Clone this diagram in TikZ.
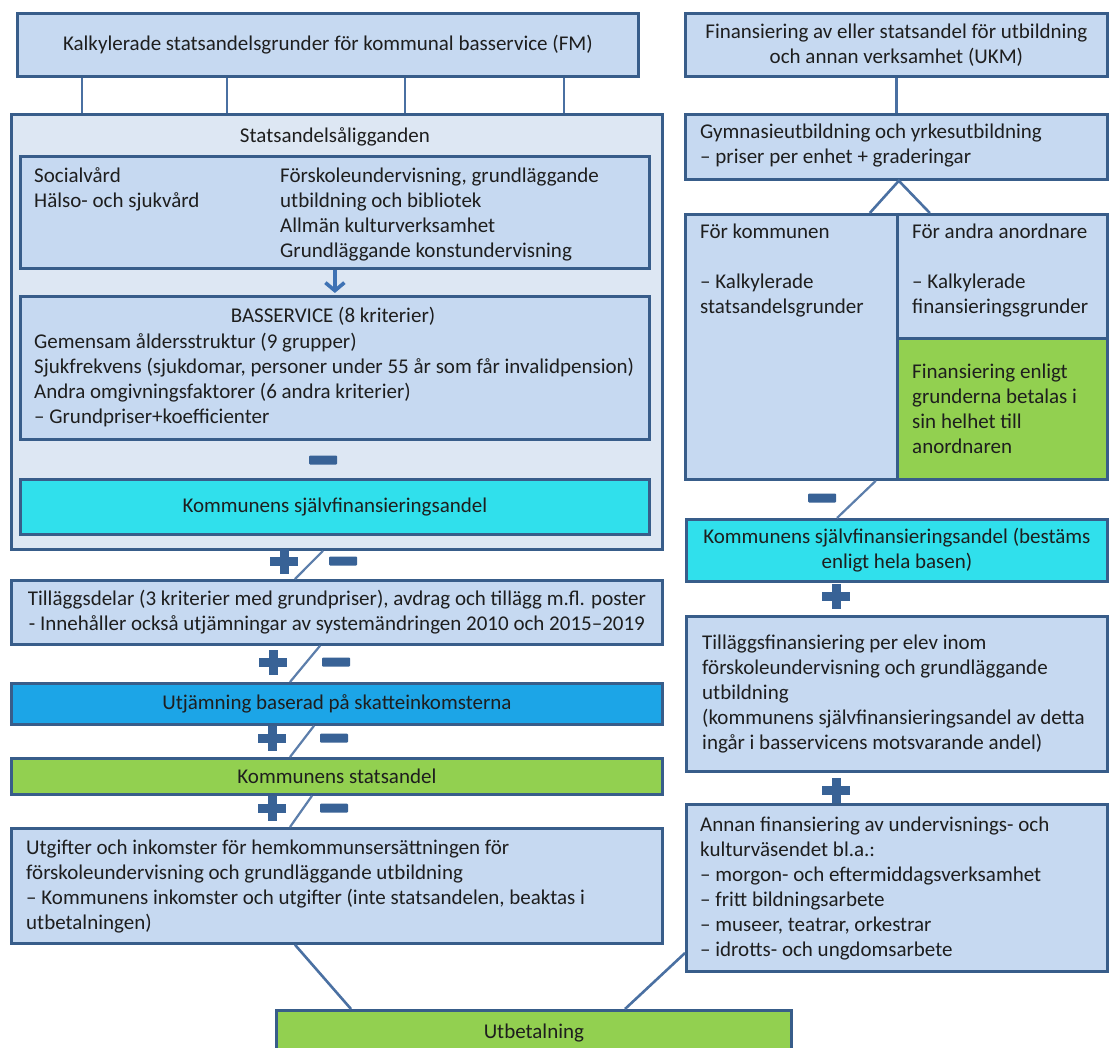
\documentclass[tikz,border=0pt]{standalone}
\usepackage{fontspec}
\setmainfont{Carlito}
\usetikzlibrary{arrows.meta}
\definecolor{boxline}{RGB}{56,93,138}
\definecolor{boxfill}{RGB}{198,217,241}
\definecolor{outerfill}{RGB}{221,231,243}
\definecolor{cyanfill}{RGB}{48,224,236}
\definecolor{bluefill}{RGB}{28,165,231}
\definecolor{greenfill}{RGB}{146,208,80}
\definecolor{linkblue}{RGB}{74,112,162}
\definecolor{arrowblue}{RGB}{62,114,180}
\definecolor{signblue}{RGB}{56,98,150}
\definecolor{textgray}{RGB}{30,30,30}
\newcommand{\boxfont}{\fontsize{21}{25}\selectfont}

\begin{document}
\begin{tikzpicture}[x=1pt,y=-1pt]

\tikzset{box/.style = {draw=boxline, line width=2.8pt, fill=boxfill, anchor=north west,
  inner sep=0pt, align=center, text=textgray, font=\boxfont}}
\tikzset{txt/.style = {anchor=base west, align=left, inner sep=0pt, text=textgray, font=\boxfont}}
\tikzset{link/.style = {draw=linkblue, line width=2.6pt}}
\tikzset{slash/.style = {draw=linkblue!90!white, line width=2.2pt}}
\tikzset{minussign/.style = {fill=signblue, rounded corners=1pt, minimum width=28pt,
  minimum height=9pt, inner sep=0pt}}
\tikzset{plussign/.pic = {\fill[signblue] (-14,-4.5) rectangle (14,4.5);
  \fill[signblue] (-4.5,-12.5) rectangle (4.5,12.5);}}

\fill[white] (0,0) rectangle (1110,1048);
\useasboundingbox (0,0) rectangle (1110,1048);

% left column (text nodes sit on the baseline of their last line)
\node[box, minimum width=621pt, minimum height=63pt] (fm) at (16,12)
  {Kalkylerade statsandelsgrunder för kommunal basservice (FM)};
\node[box, fill=outerfill, minimum width=651pt, minimum height=435pt] (outer) at (10,113) {};
\node[txt, anchor=base] (outer-t) at (335,143) {Statsandelsåligganden};
\node[box, minimum width=629pt, minimum height=112pt] (duties) at (19,155) {};
\node[txt] (duties-l) at (34,208) {Socialvård\\Hälso- och sjukvård};
\node[txt] (duties-r) at (280,258) {Förskoleundervisning, grundläggande\\utbildning och bibliotek\\Allmän kulturverksamhet\\Grundläggande konstundervisning};
\node[box, minimum width=629pt, minimum height=143pt] (basservice) at (19,295) {};
\node[txt, anchor=base] (bas-t) at (333,323) {BASSERVICE (8 kriterier)};
\node[txt] (bas-l) at (34,423) {Gemensam åldersstruktur (9 grupper)\\Sjukfrekvens (sjukdomar, personer under 55 år som får invalidpension)\\Andra omgivningsfaktorer (6 andra kriterier)\\– Grundpriser+koefficienter};
\node[minussign] (m0) at (323,460) {};
\node[box, fill=cyanfill, minimum width=629pt, minimum height=55pt] (selfshare) at (19,478)
  {Kommunens självfinansieringsandel};
\node[box, minimum width=651pt, minimum height=64pt] (tillagg) at (10,579)
  {Tilläggsdelar (3 kriterier med grundpriser), avdrag och tillägg m.fl. poster\\- Innehåller också utjämningar av systemändringen 2010 och 2015–2019};
\node[box, fill=bluefill, minimum width=651pt, minimum height=41pt] (utjamning) at (10,682)
  {Utjämning baserad på skatteinkomsterna};
\node[box, fill=greenfill, minimum width=651pt, minimum height=36pt] (statsandel) at (10,757)
  {Kommunens statsandel};
\node[box, minimum width=651pt, minimum height=115pt] (utgifter) at (10,827) {};
\node[txt] (utgifter-t) at (26,929) {Utgifter och inkomster för hemkommunsersättningen för\\förskoleundervisning och grundläggande utbildning\\– Kommunens inkomster och utgifter (inte statsandelen, beaktas i\\utbetalningen)};
\node[box, fill=greenfill, minimum width=515pt, minimum height=46pt] (utbetalning) at (275,1009)
  {Utbetalning};

% right column
\node[box, minimum width=422pt, minimum height=63pt] (ukm) at (684,12)
  {Finansiering av eller statsandel för utbildning\\och annan verksamhet (UKM)};
\node[box, minimum width=422pt, minimum height=65pt] (gym) at (684,113) {};
\node[txt] (gym-t) at (700,164) {Gymnasieutbildning och yrkesutbildning\\– priser per enhet + graderingar};
\node[box, minimum width=212pt, minimum height=265pt] (kommun) at (684,213) {};
\node[txt] (kommun-t) at (700,314) {För kommunen\\[25pt]– Kalkylerade\\statsandelsgrunder};
\node[box, minimum width=210pt, minimum height=124pt] (andra) at (896,213) {};
\node[txt] (andra-t) at (912,314) {För andra anordnare\\[25pt]– Kalkylerade\\finansieringsgrunder};
\node[box, fill=greenfill, minimum width=210pt, minimum height=141pt] (direct) at (896,337) {};
\node[txt] (direct-t) at (912,453) {Finansiering enligt\\grunderna betalas i\\sin helhet till\\anordnaren};
\node[minussign] (m5) at (822,498) {};
\node[box, fill=cyanfill, minimum width=421pt, minimum height=62pt] (selfshare2) at (685,518)
  {Kommunens självfinansieringsandel (bestäms\\enligt hela basen)};
\node[box, minimum width=421pt, minimum height=155pt] (tillfin) at (685,615) {};
\node[txt] (tillfin-t) at (702,749) {Tilläggsfinansiering per elev inom\\förskoleundervisning och grundläggande\\utbildning\\(kommunens självfinansieringsandel av detta\\ingår i basservicens motsvarande andel)};
\node[box, minimum width=421pt, minimum height=167pt] (annan) at (685,803) {};
\node[txt] (annan-t) at (700,956) {Annan finansiering av undervisnings- och\\kulturväsendet bl.a.:\\– morgon- och eftermiddagsverksamhet\\– fritt bildningsarbete\\– museer, teatrar, orkestrar\\– idrotts- och ungdomsarbete};

% connectors
\foreach \x in {82,227,405,564} {
  \coordinate (t) at (\x,0);
  \draw[link] (fm.south -| t) -- (outer.north -| t);
}
\draw[draw=arrowblue, line width=3.6pt, -{Straight Barb[length=8pt, width=19pt, line width=3.6pt]}]
  (duties.south) -- ([yshift=2pt]basservice.north);
\draw[link] (ukm.south) -- (gym.north);
\draw[link, line join=miter] ([xshift=-29pt]kommun.north east) -- (gym.south -| kommun.north east)
  -- ([xshift=31pt]kommun.north east);
\draw[link] ([xshift=285pt]utgifter.south west) -- ([xshift=76pt]utbetalning.north west);
\draw[link] ([yshift=-150pt]annan.north west) -- ([xshift=350pt]utbetalning.north west);

% plus / minus
\draw[slash] ([xshift=313pt]outer.south west) -- ([xshift=285pt]tillagg.north west);
\pic at (284,561) {plussign};
\node[minussign] (m1) at (343,561) {};
\draw[slash] ([xshift=310pt]tillagg.south west) -- ([xshift=280pt]utjamning.north west);
\pic at (273,662) {plussign};
\node[minussign] (m2) at (336,662) {};
\draw[slash] ([xshift=304pt]utjamning.south west) -- ([xshift=280pt]statsandel.north west);
\pic at (272,738) {plussign};
\node[minussign] (m3) at (334,738) {};
\draw[slash] ([xshift=302pt]statsandel.south west) -- ([xshift=280pt]utgifter.north west);
\pic at (272,808) {plussign};
\node[minussign] (m4) at (334,808) {};
\draw[slash] ([xshift=-23pt]kommun.south east) -- ([xshift=152pt]selfshare2.north west);
\pic at (836,596) {plussign};
\pic at (836,790) {plussign};

\end{tikzpicture}
\end{document}
